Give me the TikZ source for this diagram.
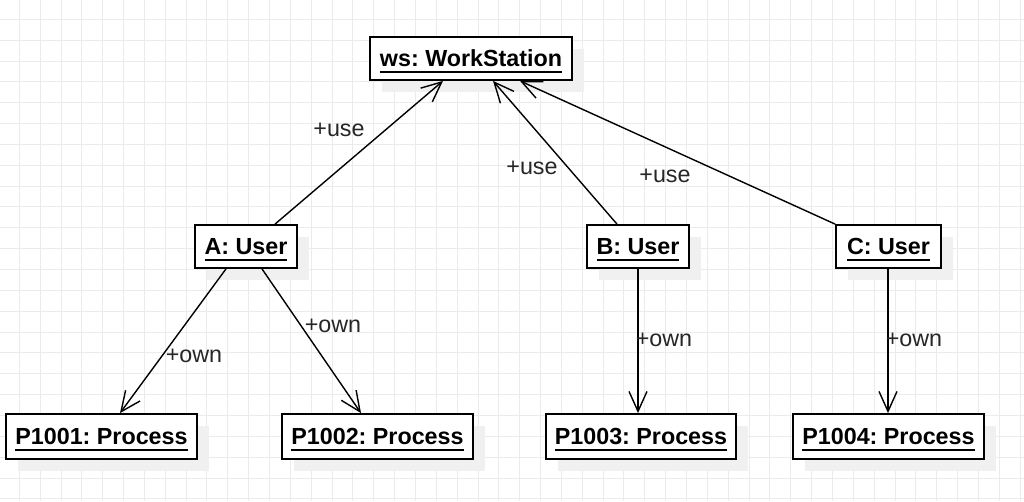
\documentclass[tikz,border=0pt]{standalone}
\usepackage{fontspec}
\setmainfont{Liberation Sans}
\usetikzlibrary{arrows.meta}
\frenchspacing
\newcommand\myul[1]{\setbox0\hbox{#1}\rlap{\raisebox{-6pt}{\rule{\wd0}{1.9pt}}}\box0}
\tikzset{
  obj/.style={draw=black, line width=1.8pt, fill=white, inner sep=0pt, minimum height=43pt,
    text height=17pt, text depth=0.5pt,
    font=\fontsize{23.3}{28}\selectfont\bfseries},
  shadowbox/.style={fill=black!6, draw=none},
  conn/.style={line width=1.4pt, -{Straight Barb[length=20pt,width=18pt,line width=1.4pt]}},
  lbl/.style={font=\fontsize{23.3}{28}\selectfont, text=black!85, inner sep=0pt},
  gridline/.style={draw=black!8, line width=1pt}
}
\begin{document}
\begin{tikzpicture}[x=1pt,y=-1pt]
\useasboundingbox (0,0) rectangle (1024,501);
\fill[white] (0,0) rectangle (1024,501);
\foreach \i in {0,...,49} {
  \draw[gridline] ({19.3+\i*20.85},0) -- ({19.3+\i*20.85},501);
}
\foreach \i in {0,...,23} {
  \draw[gridline] (0,{19.3+\i*20.85}) -- (1024,{19.3+\i*20.85});
}
% shadows
\foreach \a/\b/\c/\d in {370/37/572/80, 195/225/297/268, 587/225/689/268, 836/225/941/268,
  6/414/197/459, 282/414/473/459, 546/414/736/459, 793/414/984/459} {
  \fill[shadowbox] (\a+12,\b+12) rectangle (\c+12,\d+12);
}
\node[obj, minimum width=202pt] (ws) at (471,58.5) {\myul{ws: WorkStation}};
\node[obj, minimum width=102pt] (A) at (246,246.5) {\myul{A: User}};
\node[obj, minimum width=102pt] (B) at (638,246.5) {\myul{B: User}};
\node[obj, minimum width=105pt] (C) at (888.5,246.5) {\myul{C: User}};
\node[obj, minimum width=191pt, minimum height=45pt] (p1) at (101.5,436.5) {\myul{P1001: Process}};
\node[obj, minimum width=191pt, minimum height=45pt] (p2) at (377.5,436.5) {\myul{P1002: Process}};
\node[obj, minimum width=190pt, minimum height=45pt] (p3) at (641,436.5) {\myul{P1003: Process}};
\node[obj, minimum width=191pt, minimum height=45pt] (p4) at (888.5,436.5) {\myul{P1004: Process}};

\draw[conn] (A.north -| 275,0) -- (ws.south -| 443,0);
\draw[conn] (B.north -| 617,0) -- (ws.south -| 493,0);
\draw[conn] (C.north west) -- (ws.south -| 520,0);
\draw[conn] (A.south -| 226,0) -- (p1.north -| 120,0);
\draw[conn] (A.south -| 262,0) -- (p2.north -| 361,0);
\draw[conn] (B.south) -- (p3.north -| 638,0);
\draw[conn] (C.south -| 888,0) -- (p4.north -| 888,0);

\node[lbl] (l1) at (339,130) {+use};
\node[lbl] (l2) at (532,168) {+use};
\node[lbl] (l3) at (665,176) {+use};
\node[lbl] (l4) at (194,356) {+own};
\node[lbl] (l5) at (333,326) {+own};
\node[lbl] (l6) at (664,340) {+own};
\node[lbl] (l7) at (914,340) {+own};
\end{tikzpicture}
\end{document}
